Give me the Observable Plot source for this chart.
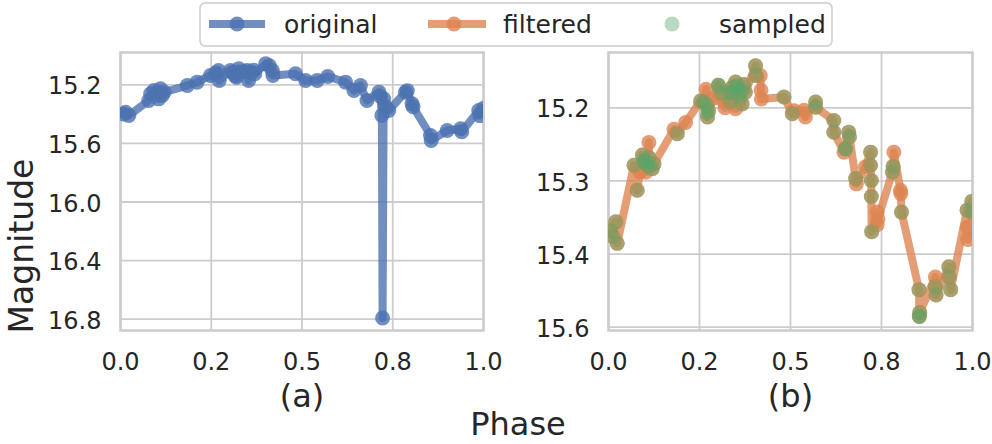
<!DOCTYPE html>
<html><head><meta charset="utf-8">
<script src="https://cdn.jsdelivr.net/npm/d3@7"></script>
<script src="https://cdn.jsdelivr.net/npm/@observablehq/plot@0.6"></script>
<style>
body{margin:0;background:#fff;font-family:"DejaVu Sans",sans-serif;}
#wrap{position:relative;width:992px;height:444px;overflow:hidden;background:#fff;}
#wrap > svg{position:absolute;top:0;overflow:visible;}
</style></head><body><div id="wrap"></div>
<script>
// ---- data ----
const origPhase=[0.008,0.014,0.023,0.078,0.083,0.092,0.105,0.11,0.115,0.12,0.184,0.211,0.248,0.262,0.27,0.272,0.303,0.308,0.316,0.32,0.326,0.34,0.349,0.353,0.36,0.367,0.37,0.4,0.41,0.418,0.42,0.482,0.51,0.542,0.571,0.62,0.643,0.661,0.679,0.712,0.716,0.72,0.722,0.725,0.73,0.739,0.785,0.79,0.803,0.806,0.854,0.856,0.9,0.937,0.94,0.987,0.99,1.0];
const origMag=[15.40,15.387,15.409,15.307,15.261,15.239,15.296,15.227,15.273,15.25,15.205,15.182,15.136,15.12,15.102,15.171,15.102,15.114,15.14,15.148,15.09,15.11,15.102,15.171,15.114,15.10,15.125,15.057,15.07,15.102,15.136,15.125,15.171,15.171,15.143,15.182,15.239,15.205,15.307,15.25,15.28,15.409,16.792,15.296,15.35,15.375,15.25,15.24,15.33,15.35,15.546,15.58,15.512,15.5,15.52,15.375,15.41,15.36];

const filtPhase=[0.006,0.012,0.02,0.024,0.07,0.079,0.086,0.093,0.1,0.102,0.108,0.111,0.111,0.12,0.125,0.18,0.189,0.212,0.253,0.262,0.268,0.27,0.272,0.275,0.29,0.302,0.31,0.316,0.32,0.33,0.335,0.34,0.349,0.349,0.353,0.36,0.367,0.372,0.376,0.404,0.405,0.417,0.419,0.42,0.482,0.505,0.51,0.537,0.541,0.569,0.569,0.619,0.619,0.647,0.651,0.66,0.662,0.679,0.681,0.706,0.72,0.72,0.722,0.722,0.723,0.738,0.738,0.74,0.78,0.782,0.784,0.802,0.803,0.805,0.853,0.854,0.855,0.898,0.898,0.9,0.935,0.936,0.94,0.985,0.986,0.987,0.998,1.0];
const filtMag=[15.402,15.414,15.384,15.428,15.268,15.319,15.282,15.247,15.258,15.282,15.27,15.221,15.252,15.275,15.265,15.194,15.203,15.18,15.136,15.138,15.112,15.145,15.169,15.156,15.13,15.104,15.12,15.136,15.15,15.118,15.138,15.108,15.097,15.152,15.112,15.126,15.142,15.102,15.118,15.064,15.084,15.084,15.114,15.132,15.128,15.162,15.156,15.155,15.169,15.138,15.149,15.176,15.2,15.241,15.234,15.2,15.21,15.295,15.306,15.271,15.241,15.268,15.299,15.332,15.404,15.364,15.39,15.378,15.282,15.27,15.241,15.319,15.326,15.364,15.523,15.578,15.57,15.497,15.517,15.534,15.476,15.497,15.523,15.36,15.395,15.42,15.342,15.366];

const sampPhase=[0.006,0.012,0.02,0.024,0.07,0.079,0.093,0.095,0.1,0.105,0.108,0.111,0.12,0.125,0.189,0.253,0.262,0.27,0.27,0.272,0.275,0.302,0.302,0.31,0.33,0.335,0.34,0.34,0.349,0.353,0.355,0.36,0.365,0.367,0.372,0.376,0.404,0.405,0.482,0.505,0.569,0.569,0.619,0.619,0.651,0.651,0.66,0.662,0.679,0.72,0.72,0.722,0.722,0.723,0.78,0.782,0.805,0.853,0.854,0.854,0.855,0.898,0.9,0.935,0.936,0.94,0.985,0.998,1.0];
const sampMag=[15.402,15.414,15.384,15.428,15.268,15.319,15.247,15.26,15.258,15.265,15.27,15.252,15.275,15.265,15.203,15.136,15.138,15.145,15.16,15.169,15.156,15.104,15.104,15.12,15.118,15.138,15.108,15.12,15.097,15.112,15.105,15.126,15.115,15.142,15.102,15.118,15.064,15.084,15.128,15.162,15.138,15.149,15.176,15.2,15.234,15.234,15.2,15.21,15.295,15.241,15.268,15.299,15.332,15.404,15.282,15.27,15.364,15.523,15.578,15.578,15.57,15.517,15.534,15.476,15.497,15.523,15.36,15.342,15.366];

const xTicks=[0,0.25,0.5,0.75,1];
const xTickLabels=["0.0","0.2","0.5","0.8","1.0"];
const yTicksA=[15.2,15.6,16.0,16.4,16.8];
const yTickLabelsA=["15.2","15.6","16.0","16.4","16.8"];
const yTicksB=[15.15,15.30,15.45,15.60];
const yTickLabelsB=["15.2","15.3","15.4","15.6"];
const seriesNames=["original","filtered","sampled"];
const seriesColors=["#4c72b0","#dd8452","#55a868"];
const panelLabels=["(a)","(b)"];
const xTitle="Phase";
const yTitle="Magnitude";

// ---- build ----
const toRows=(ph,mg)=>ph.map((p,i)=>({phase:p,mag:mg[i]}));
const original=toRows(origPhase,origMag);
const filtered=toRows(filtPhase,filtMag);
const sampled=toRows(sampPhase,sampMag);
const ink="#262626", gridC="#cccccc";
const xLab=new Map(xTicks.map((t,i)=>[t,xTickLabels[i]]));

function panel({marks,yDomain,yTicks,yLabels,label,marginLeft,marginRight}){
  const yLab=new Map(yTicks.map((t,i)=>[t,yLabels[i]]));
  return Plot.plot({
    width:496,height:444,marginLeft,marginRight,marginTop:52,marginBottom:114,
    style:{fontFamily:"DejaVu Sans",background:"transparent",color:ink,overflow:"visible"},
    x:{domain:[0,1]},
    y:{domain:yDomain,reverse:true},
    marks:[
      Plot.gridX(xTicks,{stroke:gridC,strokeOpacity:1,strokeWidth:1.8}),
      Plot.gridY(yTicks,{stroke:gridC,strokeOpacity:1,strokeWidth:1.8}),
      Plot.frame({stroke:gridC,strokeWidth:2.5}),
      ...marks,
      Plot.axisX(xTicks,{tickSize:0,tickPadding:22,fontSize:24,color:ink,label:null,tickFormat:d=>xLab.get(d)}),
      Plot.axisY(yTicks,{tickSize:0,tickPadding:19,fontSize:24,color:ink,label:null,dy:2,tickFormat:d=>yLab.get(d)}),
      Plot.text([label],{frameAnchor:"bottom",text:d=>d,dy:66,fontSize:32,fill:ink,lineAnchor:"middle"})
    ]
  });
}

const lw=8, r=7.5;
const pa=panel({
  label:panelLabels[0],marginLeft:120,marginRight:13,
  yDomain:[14.9795,16.877],yTicks:yTicksA,yLabels:yTickLabelsA,
  marks:[
    Plot.line(original,{x:"phase",y:"mag",stroke:seriesColors[0],strokeWidth:lw,strokeOpacity:0.8,clip:true}),
    Plot.dot(original,{x:"phase",y:"mag",r,fill:seriesColors[0],fillOpacity:0.8,clip:true})
  ]
});
const pb=panel({
  label:panelLabels[1],marginLeft:112,marginRight:20,
  yDomain:[15.0366,15.6068],yTicks:yTicksB,yLabels:yTickLabelsB,
  marks:[
    Plot.line(filtered,{x:"phase",y:"mag",stroke:seriesColors[1],strokeWidth:lw,strokeOpacity:0.8,clip:true}),
    Plot.dot(filtered,{x:"phase",y:"mag",r,fill:seriesColors[1],fillOpacity:0.8,clip:true}),
    Plot.dot(sampled,{x:"phase",y:"mag",r,fill:seriesColors[2],fillOpacity:0.42,clip:true})
  ]
});
const wrap=document.getElementById("wrap");
pa.style.left="0px"; pb.style.left="496px";
pa.style.overflow="visible"; pb.style.overflow="visible";
wrap.appendChild(pa); wrap.appendChild(pb);

// overlay: legend + shared titles
const ov=d3.select(wrap).append("svg").attr("width",992).attr("height",444)
  .style("position","absolute").style("left","0px").style("top","0px")
  .style("font-family","DejaVu Sans");
const lg=ov.append("g");
lg.append("rect").attr("x",200).attr("y",3).attr("width",632).attr("height",43).attr("rx",5)
  .attr("fill","#fff").attr("fill-opacity",0.8).attr("stroke",gridC).attr("stroke-width",1.5);
const items=[{x0:209,x1:265,dot:237,tx:284,line:true,op:0.8},{x0:428,x1:486,dot:454,tx:503,line:true,op:0.8},{x0:null,x1:null,dot:672,tx:719,line:false,op:0.42}];
items.forEach((it,i)=>{
  if(it.line) lg.append("line").attr("x1",it.x0).attr("x2",it.x1).attr("y1",24).attr("y2",24)
    .attr("stroke",seriesColors[i]).attr("stroke-width",lw).attr("stroke-opacity",0.8);
  lg.append("circle").attr("cx",it.dot).attr("cy",24).attr("r",r).attr("fill",seriesColors[i]).attr("fill-opacity",it.op);
  lg.append("text").attr("x",it.tx).attr("y",33).attr("font-size",25).attr("fill",ink).text(seriesNames[i]);
});
ov.append("text").attr("x",518).attr("y",435).attr("text-anchor","middle").attr("font-size",32).attr("fill",ink).text(xTitle);
ov.append("text").attr("transform","translate(33,246) rotate(-90)").attr("text-anchor","middle").attr("font-size",33).attr("fill",ink).text(yTitle);
</script></body></html>
